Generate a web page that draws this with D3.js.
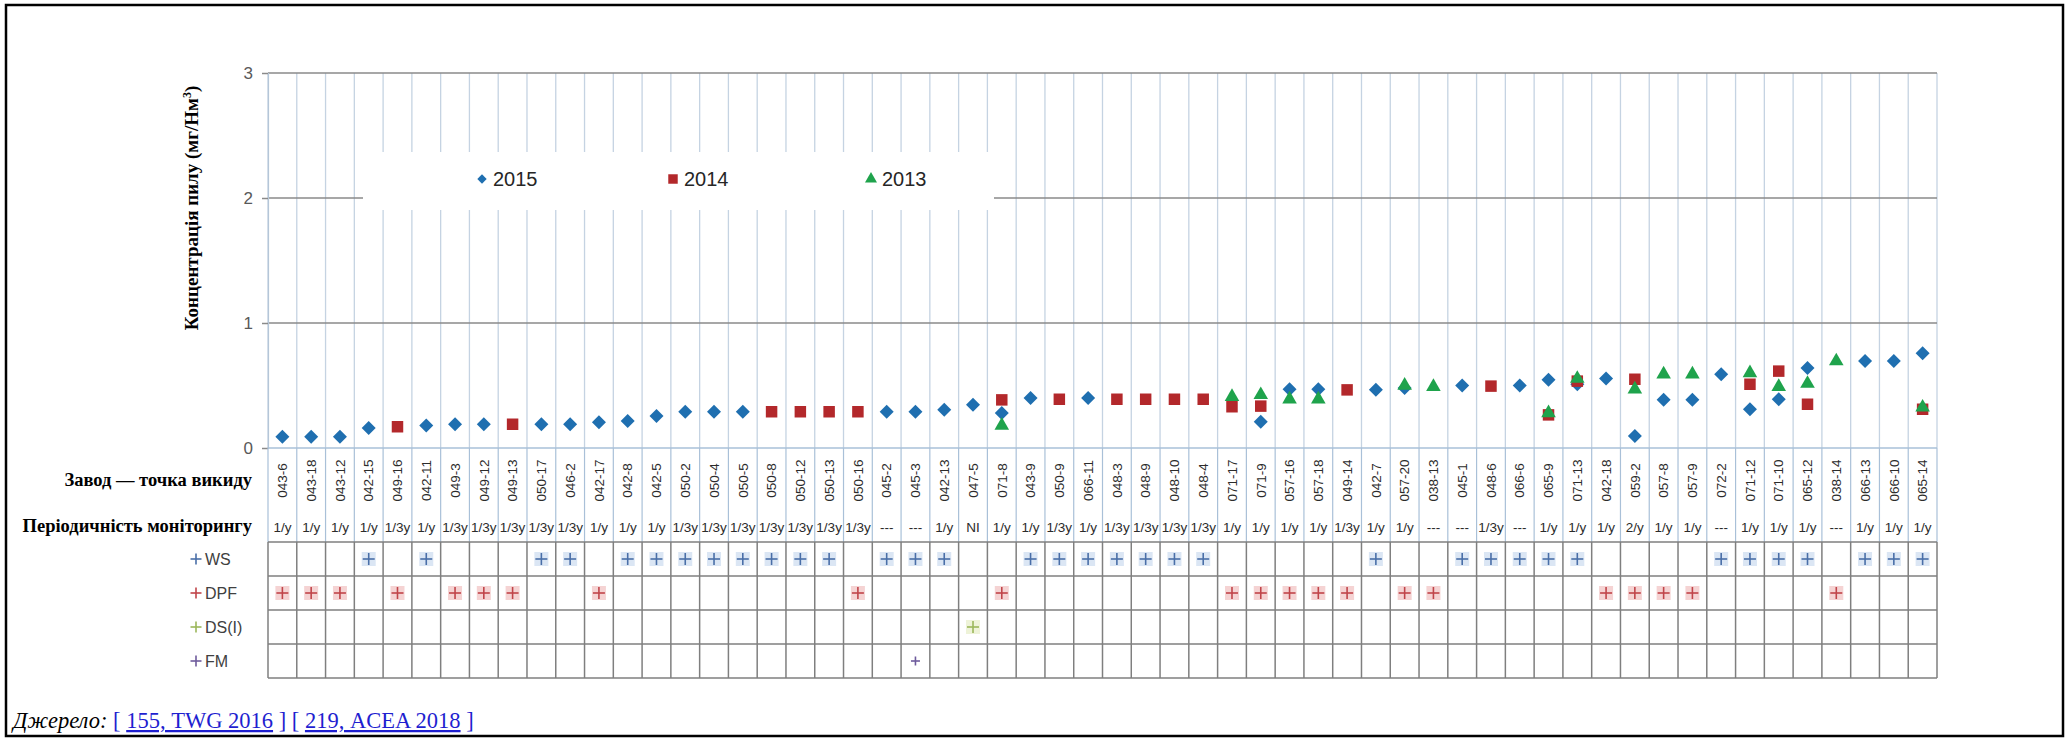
<!DOCTYPE html>
<html lang="uk">
<head>
<meta charset="utf-8">
<title>Концентрація пилу</title>
<script src="https://d3js.org/d3.v7.min.js"></script>
<style>
  body { margin: 0; background: #fff; }
  svg { display: block; }
</style>
</head>
<body>
<script>
// --- data ---
var categories = ["043-6", "043-18", "043-12", "042-15", "049-16", "042-11", "049-3", "049-12", "049-13", "050-17",
    "046-2", "042-17", "042-8", "042-5", "050-2", "050-4", "050-5", "050-8", "050-12", "050-13",
    "050-16", "045-2", "045-3", "042-13", "047-5", "071-8", "043-9", "050-9", "066-11", "048-3",
    "048-9", "048-10", "048-4", "071-17", "071-9", "057-16", "057-18", "049-14", "042-7", "057-20",
    "038-13", "045-1", "048-6", "066-6", "065-9", "071-13", "042-18", "059-2", "057-8", "057-9",
    "072-2", "071-12", "071-10", "065-12", "038-14", "066-13", "066-10", "065-14"];

var frequency = ["1/y", "1/y", "1/y", "1/y", "1/3y", "1/y", "1/3y", "1/3y", "1/3y", "1/3y",
    "1/3y", "1/y", "1/y", "1/y", "1/3y", "1/3y", "1/3y", "1/3y", "1/3y", "1/3y",
    "1/3y", "---", "---", "1/y", "NI", "1/y", "1/y", "1/3y", "1/y", "1/3y",
    "1/3y", "1/3y", "1/3y", "1/y", "1/y", "1/y", "1/y", "1/3y", "1/y", "1/y",
    "---", "---", "1/3y", "---", "1/y", "1/y", "1/y", "2/y", "1/y", "1/y",
    "---", "1/y", "1/y", "1/y", "---", "1/y", "1/y", "1/y"];

var dust2015 = [0.09, 0.09, 0.09, 0.16, null, 0.18, 0.19, 0.19, null, 0.19,
    0.19, 0.205, 0.215, 0.255, 0.29, 0.29, 0.29, null, null, null,
    null, 0.29, 0.29, 0.305, 0.345, 0.28, 0.40, null, 0.40, null,
    null, null, null, null, 0.21, 0.47, 0.47, null, 0.465, 0.48,
    null, 0.50, null, 0.50, 0.545, 0.51, 0.555, 0.095, 0.385, 0.385,
    0.59, 0.31, 0.39, 0.64, null, 0.695, 0.695, 0.757];

var dust2014 = [null, null, null, null, 0.17, null, null, null, 0.19, null,
    null, null, null, null, null, null, null, 0.29, 0.29, 0.29,
    0.29, null, null, null, null, 0.385, null, 0.39, null, 0.39,
    0.39, 0.39, 0.39, 0.33, 0.335, null, null, 0.465, null, null,
    null, null, 0.495, null, 0.265, 0.535, null, 0.55, null, null,
    null, 0.51, 0.615, 0.35, null, null, null, 0.31];

var dust2013 = [null, null, null, null, null, null, null, null, null, null,
    null, null, null, null, null, null, null, null, null, null,
    null, null, null, null, null, 0.18, null, null, null, null,
    null, null, null, 0.41, 0.425, 0.39, 0.39, null, null, 0.50,
    0.49, null, null, null, 0.28, 0.555, null, 0.47, 0.59, 0.59,
    null, 0.60, 0.49, 0.515, 0.695, null, null, 0.325];

var yTicks = [0, 1, 2, 3];

var techWS = ["042-15", "042-11", "050-17", "046-2", "042-8", "042-5", "050-2", "050-4", "050-5", "050-8",
    "050-12", "050-13", "045-2", "045-3", "042-13", "043-9", "050-9", "066-11", "048-3", "048-9",
    "048-10", "048-4", "042-7", "045-1", "048-6", "066-6", "065-9", "071-13", "072-2", "071-12",
    "071-10", "065-12", "066-13", "066-10", "065-14"];
var techDPF = ["043-6", "043-18", "043-12", "049-16", "049-3", "049-12", "049-13", "042-17", "050-16", "071-8",
    "071-17", "071-9", "057-16", "057-18", "049-14", "057-20", "038-13", "042-18", "059-2", "057-8",
    "057-9", "038-14"];
var techDS = ["047-5"];
var techFM = ["045-3"];

// --- layout ---
var width = 2067, height = 739;
var plotLeft = 268, plotRight = 1937;
var plotTop = 73, plotBottom = 448;
var labelRowBottom = 513, freqRowBottom = 542;
var tableRowH = 34;
var serif = "'Liberation Serif', 'Times New Roman', serif";
var sans = "'Liberation Sans', Arial, sans-serif";

var svg = d3.select("body")
    .append("svg")
    .attr("width", width)
    .attr("height", height);

svg.append("rect")
    .attr("x", 6).attr("y", 5)
    .attr("width", 2057).attr("height", 731)
    .attr("fill", "none")
    .attr("stroke", "#000")
    .attr("stroke-width", 2.5);

var x = d3.scaleBand()
    .domain(categories)
    .range([plotLeft, plotRight])
    .padding(0);

var y = d3.scaleLinear()
    .domain([0, 3])
    .range([plotBottom, plotTop]);

var bounds = categories.map(function (c) { return x(c); }).concat([plotRight]);

// vertical column lines in the plot
svg.append("g")
    .selectAll("line")
    .data(bounds)
    .enter()
    .append("line")
    .attr("x1", function (d) { return d; })
    .attr("x2", function (d) { return d; })
    .attr("y1", y(3))
    .attr("y2", y(0))
    .attr("stroke", "#c5d3e2")
    .attr("stroke-width", 1.3);

// horizontal gridlines
svg.append("g")
    .selectAll("line")
    .data(yTicks.filter(function (d) { return d > 0; }))
    .enter()
    .append("line")
    .attr("x1", plotLeft)
    .attr("x2", plotRight)
    .attr("y1", function (d) { return y(d); })
    .attr("y2", function (d) { return y(d); })
    .attr("stroke", "#8a8a8a")
    .attr("stroke-width", 1.5);

// y axis
var yAxis = svg.append("g")
    .attr("transform", "translate(" + plotLeft + ",0)")
    .call(d3.axisLeft(y).tickValues(yTicks).tickSize(6).tickPadding(9).tickFormat(d3.format("d")));
yAxis.select(".domain").attr("stroke", "#b5c6d8").attr("stroke-width", 1.2);
yAxis.selectAll(".tick line").attr("stroke", "#8a8a8a").attr("stroke-width", 1.5);
yAxis.selectAll(".tick text")
    .attr("font-family", sans)
    .attr("font-size", 17)
    .attr("fill", "#595959");

// baseline
svg.append("line")
    .attr("x1", plotLeft).attr("x2", plotRight)
    .attr("y1", y(0)).attr("y2", y(0))
    .attr("stroke", "#a9c0d8")
    .attr("stroke-width", 1.5);

// y title
var yTitle = svg.append("text")
    .attr("transform", "translate(198,208) rotate(-90)")
    .attr("text-anchor", "middle")
    .attr("font-family", serif)
    .attr("font-weight", "bold")
    .attr("font-size", 19)
    .attr("fill", "#000");
yTitle.append("tspan").text("Концентрація пилу (мг/Нм");
yTitle.append("tspan").attr("font-size", 12).attr("dy", -7).text("3");
yTitle.append("tspan").attr("dy", 7).text(")");

// legend box (covers the gridlines behind it)
svg.append("rect")
    .attr("x", 363).attr("y", 152)
    .attr("width", 631).attr("height", 58)
    .attr("fill", "#fff");

var series = [
    {name: "2015", values: dust2015, shape: "diamond", color: "#1f6fb0"},
    {name: "2014", values: dust2014, shape: "square", color: "#b3282b"},
    {name: "2013", values: dust2013, shape: "triangle", color: "#1fa34c"}
];

function markerPath(shape, scale) {
    if (shape === "diamond") return d3.symbol().type(d3.symbolSquare).size(98 * scale)();
    if (shape === "square") return d3.symbol().type(d3.symbolSquare).size(132 * scale)();
    return d3.symbol().type(d3.symbolTriangle).size(92 * scale)();
}
function markerRotate(shape) {
    return shape === "diamond" ? " rotate(45)" : "";
}

var legendX = [482, 673, 871];
var legend = svg.append("g")
    .selectAll("g")
    .data(series)
    .enter()
    .append("g")
    .attr("transform", function (d, i) { return "translate(" + legendX[i] + ",179)"; });
legend.append("path")
    .attr("d", function (d) { return markerPath(d.shape, d.shape === "diamond" ? 0.45 : 0.68); })
    .attr("transform", function (d) { return markerRotate(d.shape).trim(); })
    .attr("fill", function (d) { return d.color; });
legend.append("text")
    .attr("x", 11)
    .attr("dy", "0.35em")
    .attr("font-family", sans)
    .attr("font-size", 20)
    .attr("fill", "#262626")
    .text(function (d) { return d.name; });

// markers: 2015 first, 2013 on top
series.forEach(function (s) {
    var pts = categories.map(function (c, i) { return {cat: c, v: s.values[i]}; })
        .filter(function (d) { return d.v !== null; });
    svg.append("g")
        .selectAll("path")
        .data(pts)
        .enter()
        .append("path")
        .attr("d", markerPath(s.shape, 1))
        .attr("transform", function (d) {
            return "translate(" + (x(d.cat) + x.bandwidth() / 2) + "," + y(d.v) + ")" + markerRotate(s.shape);
        })
        .attr("fill", s.color);
});

// category / frequency rows
svg.append("g")
    .selectAll("line")
    .data(bounds)
    .enter()
    .append("line")
    .attr("x1", function (d) { return d; })
    .attr("x2", function (d) { return d; })
    .attr("y1", plotBottom)
    .attr("y2", freqRowBottom)
    .attr("stroke", "#a9c0d8")
    .attr("stroke-width", 1.2);

svg.append("g")
    .selectAll("text")
    .data(categories)
    .enter()
    .append("text")
    .attr("transform", function (d) {
        return "translate(" + (x(d) + x.bandwidth() / 2) + "," + ((plotBottom + labelRowBottom) / 2) + ") rotate(-90)";
    })
    .attr("text-anchor", "middle")
    .attr("dy", "0.35em")
    .attr("font-family", sans)
    .attr("font-size", 13.5)
    .attr("fill", "#2b2b2b")
    .text(function (d) { return d; });

svg.append("g")
    .selectAll("text")
    .data(frequency)
    .enter()
    .append("text")
    .attr("x", function (d, i) { return x(categories[i]) + x.bandwidth() / 2; })
    .attr("y", (labelRowBottom + freqRowBottom) / 2)
    .attr("text-anchor", "middle")
    .attr("dy", "0.35em")
    .attr("font-family", sans)
    .attr("font-size", 13.5)
    .attr("fill", "#2b2b2b")
    .text(function (d) { return d; });

svg.append("text")
    .attr("x", 252).attr("y", 486)
    .attr("text-anchor", "end")
    .attr("font-family", serif)
    .attr("font-weight", "bold")
    .attr("font-size", 18.5)
    .text("Завод — точка викиду");
svg.append("text")
    .attr("x", 252).attr("y", 532)
    .attr("text-anchor", "end")
    .attr("font-family", serif)
    .attr("font-weight", "bold")
    .attr("font-size", 18.5)
    .text("Періодичність моніторингу");

// technique table
var techRows = [
    {name: "WS", marks: techWS, color: "#4a6fa8", bg: "#dbe6f4"},
    {name: "DPF", marks: techDPF, color: "#c0454a", bg: "#f5d3d3"},
    {name: "DS(I)", marks: techDS, color: "#9bb75a", bg: "#eef3d8"},
    {name: "FM", marks: techFM, color: "#6e5b9c", bg: "none"}
];
var rowY = d3.scaleBand()
    .domain(techRows.map(function (d) { return d.name; }))
    .range([freqRowBottom, freqRowBottom + tableRowH * techRows.length]);

var table = svg.append("g");
table.selectAll("line.h")
    .data(d3.range(techRows.length + 1))
    .enter()
    .append("line")
    .attr("x1", plotLeft).attr("x2", plotRight)
    .attr("y1", function (d) { return freqRowBottom + d * tableRowH; })
    .attr("y2", function (d) { return freqRowBottom + d * tableRowH; })
    .attr("stroke", "#7f7f7f")
    .attr("stroke-width", 1.5);
table.selectAll("line.v")
    .data(bounds)
    .enter()
    .append("line")
    .attr("x1", function (d) { return d; })
    .attr("x2", function (d) { return d; })
    .attr("y1", freqRowBottom)
    .attr("y2", freqRowBottom + tableRowH * techRows.length)
    .attr("stroke", "#7f7f7f")
    .attr("stroke-width", 1.5);

function drawPlus(g, cx, cy, half, color, bg) {
    if (bg !== "none") {
        g.append("rect")
            .attr("x", cx - 7).attr("y", cy - 7)
            .attr("width", 14).attr("height", 14)
            .attr("fill", bg);
    }
    g.append("line")
        .attr("x1", cx - half).attr("x2", cx + half)
        .attr("y1", cy).attr("y2", cy)
        .attr("stroke", color).attr("stroke-width", 1.6);
    g.append("line")
        .attr("x1", cx).attr("x2", cx)
        .attr("y1", cy - half).attr("y2", cy + half)
        .attr("stroke", color).attr("stroke-width", 1.6);
}

techRows.forEach(function (r) {
    var cy = rowY(r.name) + rowY.bandwidth() / 2;
    var g = table.append("g");
    r.marks.forEach(function (c) {
        drawPlus(g, x(c) + x.bandwidth() / 2, cy, r.name === "FM" ? 4.5 : 6, r.color, r.bg);
    });
    drawPlus(g, 196, cy, 5.5, r.color, "none");
    g.append("text")
        .attr("x", 205).attr("y", cy)
        .attr("dy", "0.35em")
        .attr("font-family", sans)
        .attr("font-size", 16)
        .attr("fill", "#404040")
        .text(r.name);
});

// source line
var src = svg.append("text")
    .attr("x", 13).attr("y", 728)
    .attr("font-family", serif)
    .attr("font-size", 22.5);
src.append("tspan").attr("font-style", "italic").attr("fill", "#000").text("Джерело:");
src.append("tspan").attr("fill", "#1f1fd0").text(" [ ");
src.append("tspan").attr("fill", "#1f1fd0").attr("text-decoration", "underline").text("155, TWG 2016");
src.append("tspan").attr("fill", "#1f1fd0").text(" ] [ ");
src.append("tspan").attr("fill", "#1f1fd0").attr("text-decoration", "underline").text("219, ACEA 2018");
src.append("tspan").attr("fill", "#1f1fd0").text(" ]");
</script>
</body>
</html>
